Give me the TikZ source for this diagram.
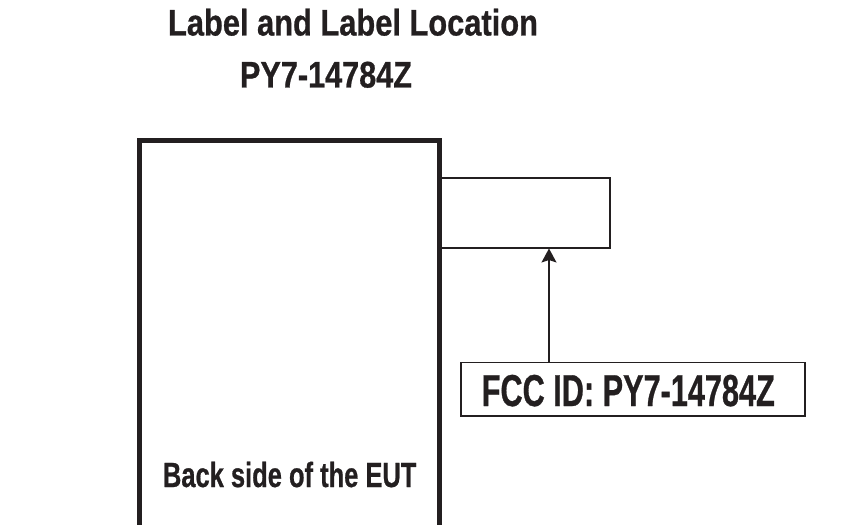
\documentclass[tikz,border=0pt]{standalone}
\usepackage{fontspec}
\setmainfont{Liberation Sans}[BoldFeatures={FakeBold=0.8}]
\usepackage{graphicx}
\usetikzlibrary{arrows.meta}
\definecolor{ink}{RGB}{35,31,32}
\tikzset{
  txt/.style={inner sep=0pt, anchor=base, text=ink},
  thinbox/.style={draw=ink, line width=1.6pt, inner sep=0pt},
  thickbox/.style={draw=ink, line width=5pt, inner sep=0pt},
  pointer/.style={draw=ink, line width=1.6pt, -{Stealth[length=14pt,width=15pt,inset=2.5pt]}}
}
\newcommand{\cnd}[3]{\scalebox{#2}[1]{\fontsize{#1}{#1}\selectfont\bfseries #3}}
\begin{document}
\begin{tikzpicture}[x=1pt,y=-1pt]
\useasboundingbox (0,0) rectangle (858,524);
\clip (0,0) rectangle (858,524);
\fill[white] (0,0) rectangle (858,524);
% titles
\node[txt] (title) at (353,35.5) {\cnd{37}{0.833}{Label and Label Location}};
\node[txt] (sub) at (326,87.5) {\cnd{37}{0.828}{PY7-14784Z}};
% EUT body (open at the bottom, runs past the picture)
\node[thickbox, minimum width=300pt, minimum height=460pt] (eut) at (289,370.5) {};
\node[txt] (euttxt) at (289.7,487) {\cnd{34.9}{0.73}{Back side of the EUT}};
% label on the EUT
\node[thinbox, minimum width=171pt, minimum height=70pt] (lbl) at (524.5,212.7) {};
% FCC ID box
\node[thinbox, minimum width=344pt, minimum height=53.3pt] (fcc) at (633,389.3) {};
\node[txt] (fcctxt) at (628.3,406) {\cnd{44.7}{0.686}{FCC ID: PY7-14784Z}};
\coordinate (ax) at (549,0);
\draw[pointer] (fcc.north -| ax) -- (lbl.south -| ax);
\end{tikzpicture}
\end{document}
